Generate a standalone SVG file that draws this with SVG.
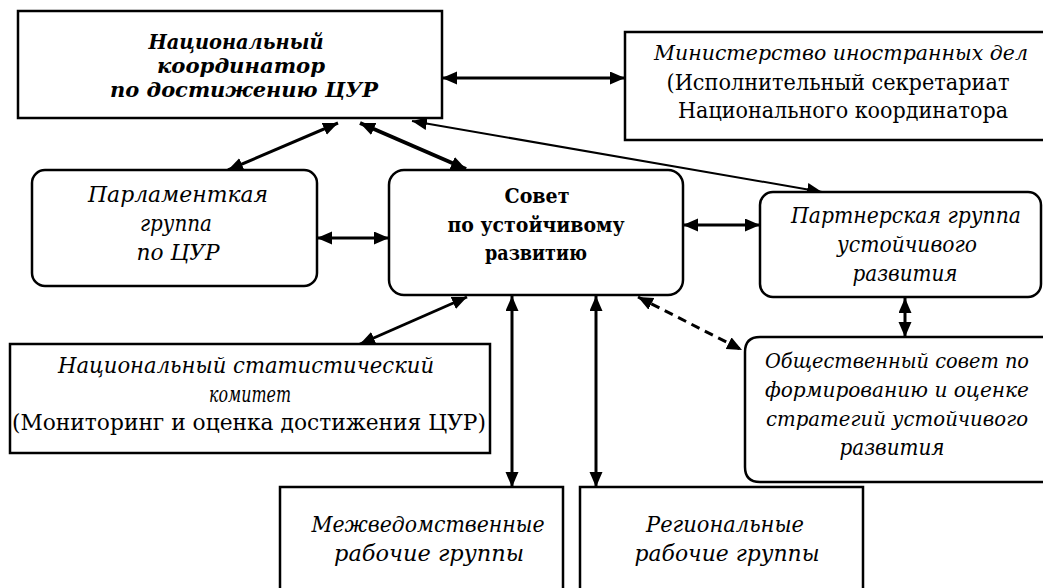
<svg xmlns="http://www.w3.org/2000/svg" width="1043" height="588" viewBox="0 0 1043 588">
<style>
.box{fill:#fff;stroke:#000;stroke-width:2.5}
.t{font-family:'DejaVu Serif','Liberation Serif',serif;font-size:22px;fill:#000;text-anchor:middle}
.i{font-style:italic}
.s{font-size:20px}
.bi{font-style:italic;font-weight:bold;font-size:21px}
.b{font-weight:bold;font-size:21px}
.c{stroke:#000;fill:none;stroke-width:3;marker-start:url(#ah);marker-end:url(#ah)}
</style>
<defs>
<marker id="ah" markerUnits="userSpaceOnUse" markerWidth="16" markerHeight="14" refX="15" refY="6.5" orient="auto-start-reverse">
<path d="M0,0 L15,6.5 L0,13 z" fill="#000"/>
</marker>
</defs>
<rect width="1043" height="588" fill="#fff"/>

<g id="connectors">
<line class="c" x1="442" y1="78" x2="625" y2="78"/>
<line class="c" x1="338" y1="123" x2="228" y2="170"/>
<line class="c" style="stroke-width:4" x1="360" y1="123" x2="466" y2="169"/>
<line class="c" style="stroke-width:2" x1="412" y1="121" x2="822" y2="192"/>
<line class="c" x1="317" y1="238" x2="389" y2="238"/>
<line class="c" x1="683" y1="225" x2="760" y2="225"/>
<line class="c" x1="467" y1="297" x2="360" y2="344"/>
<line class="c" x1="512" y1="296" x2="512" y2="487"/>
<line class="c" x1="596" y1="296" x2="596" y2="487"/>
<line class="c" style="stroke-dasharray:9 6" x1="638" y1="297" x2="742" y2="350"/>
<line class="c" x1="905" y1="298" x2="905" y2="337"/>
</g>

<g id="node-coordinator">
<rect class="box" x="18" y="11" width="424" height="107"/>
<text class="t bi" x="236" y="49" textLength="175" lengthAdjust="spacingAndGlyphs">Национальный</text>
<text class="t bi" x="241" y="73" textLength="168" lengthAdjust="spacingAndGlyphs">координатор</text>
<text class="t bi" x="244" y="97" textLength="268" lengthAdjust="spacingAndGlyphs">по достижению ЦУР</text>
</g>

<g id="node-ministry">
<path class="box" d="M1044,32 H625 V140 H1044"/>
<text class="t i s" x="841" y="60" textLength="374" lengthAdjust="spacingAndGlyphs">Министерство иностранных дел</text>
<text class="t" x="838" y="90" textLength="343" lengthAdjust="spacingAndGlyphs">(Исполнительный секретариат</text>
<text class="t" x="843" y="118" textLength="330" lengthAdjust="spacingAndGlyphs">Национального координатора</text>
</g>

<g id="node-parliament">
<rect class="box" x="32" y="170" width="285" height="116" rx="13"/>
<text class="t i" x="178" y="202" textLength="180" lengthAdjust="spacingAndGlyphs">Парламенткая</text>
<text class="t i" x="176" y="231" textLength="72" lengthAdjust="spacingAndGlyphs">группа</text>
<text class="t i" x="178" y="260" textLength="83" lengthAdjust="spacingAndGlyphs">по ЦУР</text>
</g>

<g id="node-council">
<rect class="box" x="389" y="170" width="294" height="125" rx="15"/>
<text class="t b" x="537" y="203" textLength="65" lengthAdjust="spacingAndGlyphs">Совет</text>
<text class="t b" x="536" y="232" textLength="177" lengthAdjust="spacingAndGlyphs">по устойчивому</text>
<text class="t b" x="536" y="260" textLength="102" lengthAdjust="spacingAndGlyphs">развитию</text>
</g>

<g id="node-partner">
<rect class="box" x="760" y="192" width="281" height="105" rx="13"/>
<text class="t i" x="906" y="223" textLength="230" lengthAdjust="spacingAndGlyphs">Партнерская группа</text>
<text class="t i" x="907" y="252" textLength="140" lengthAdjust="spacingAndGlyphs">устойчивого</text>
<text class="t i" x="905" y="281" textLength="105" lengthAdjust="spacingAndGlyphs">развития</text>
</g>

<g id="node-public-council">
<path class="box" d="M1044,337 H760 Q745,337 745,352 V467 Q745,482 760,482 H1044"/>
<text class="t i s" x="897" y="368" textLength="264" lengthAdjust="spacingAndGlyphs">Общественный совет по</text>
<text class="t i s" x="897" y="397" textLength="264" lengthAdjust="spacingAndGlyphs">формированию и оценке</text>
<text class="t i s" x="897" y="426" textLength="262" lengthAdjust="spacingAndGlyphs">стратегий устойчивого</text>
<text class="t i" x="892" y="455" textLength="105" lengthAdjust="spacingAndGlyphs">развития</text>
</g>

<g id="node-statistics">
<rect class="box" x="10" y="344" width="480" height="109"/>
<text class="t i" x="246" y="373" textLength="376" lengthAdjust="spacingAndGlyphs">Национальный статистический</text>
<text class="t i" x="250" y="402" textLength="82" lengthAdjust="spacingAndGlyphs">комитет</text>
<text class="t" x="249" y="430" textLength="474" lengthAdjust="spacingAndGlyphs">(Мониторинг и оценка достижения ЦУР)</text>
</g>

<g id="node-interagency">
<path class="box" d="M280,590 V487 H563 V590"/>
<text class="t i" x="428" y="532" textLength="233" lengthAdjust="spacingAndGlyphs">Межведомственные</text>
<text class="t i" x="429" y="561" textLength="190" lengthAdjust="spacingAndGlyphs">рабочие группы</text>
</g>

<g id="node-regional">
<path class="box" d="M580,590 V487 H863 V590"/>
<text class="t i" x="725" y="532" textLength="158" lengthAdjust="spacingAndGlyphs">Региональные</text>
<text class="t i" x="727" y="561" textLength="185" lengthAdjust="spacingAndGlyphs">рабочие группы</text>
</g>
</svg>
